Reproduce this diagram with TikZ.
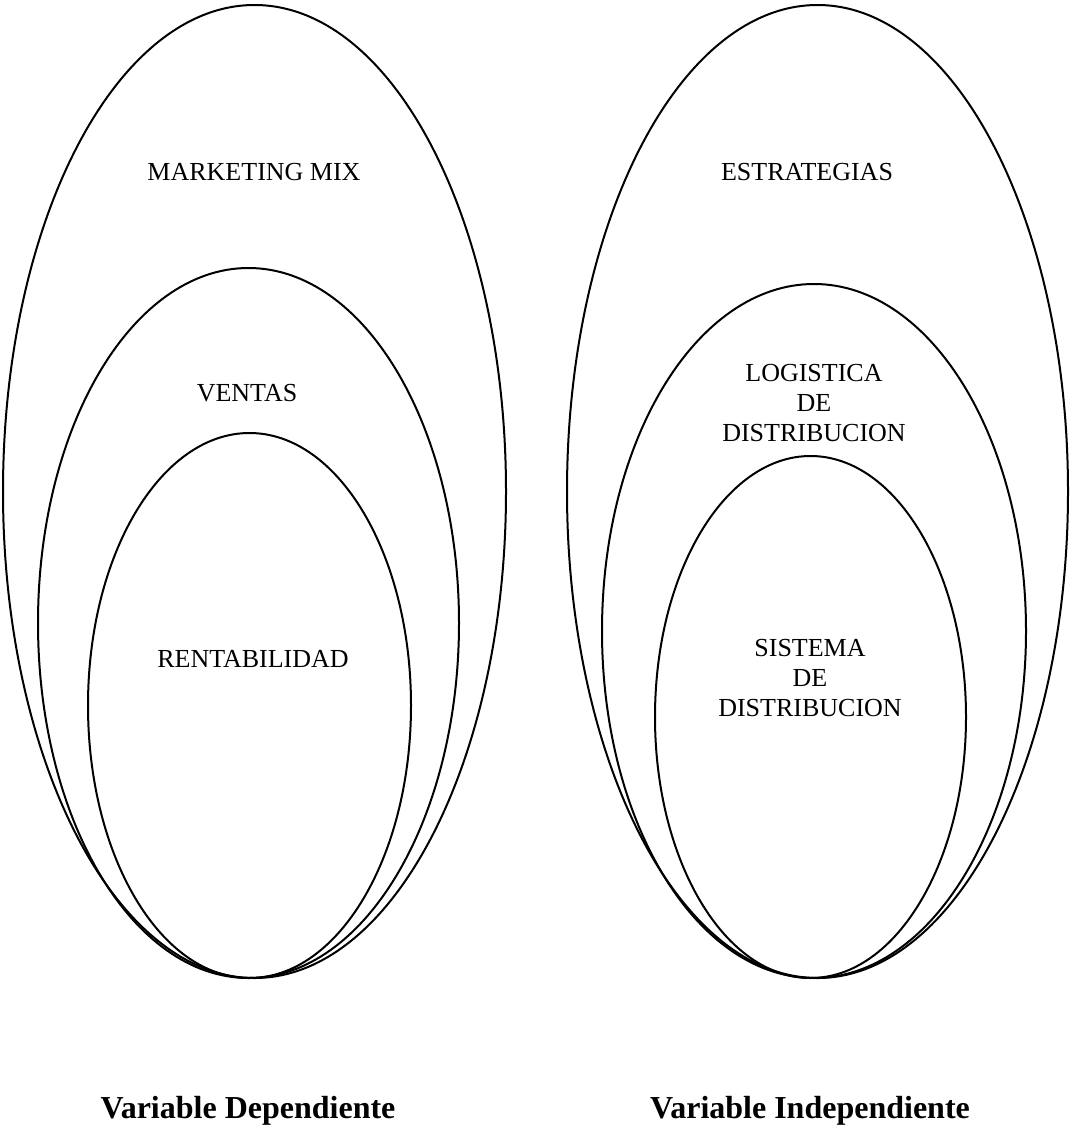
\documentclass[tikz,border=0pt]{standalone}
\usepackage{fontspec}
\setmainfont{Liberation Serif}
\begin{document}
\begin{tikzpicture}[x=1pt,y=-1pt,
  ring/.style={draw=black,line width=2pt},
  lab/.style={align=center,font=\fontsize{26}{30}\selectfont,inner sep=0pt},
  varlab/.style={font=\fontsize{32}{38}\selectfont\bfseries,inner sep=0pt,anchor=base}]
\useasboundingbox (0,0) rectangle (1072,1127);
% left group
\draw[ring] (254.5,491.5) ellipse [x radius=251.5, y radius=486.5];
\draw[ring] (248.5,623) ellipse [x radius=210.5, y radius=355];
\draw[ring] (249.5,705.5) ellipse [x radius=161.5, y radius=272.5];
% right group
\draw[ring] (817.5,491.5) ellipse [x radius=250.5, y radius=486.5];
\draw[ring] (814,631) ellipse [x radius=212, y radius=347];
\draw[ring] (810.5,717) ellipse [x radius=155.5, y radius=261];
% labels
\node[lab] (mm) at (254,172) {MARKETING MIX};
\node[lab] (ve) at (247,393) {VENTAS};
\node[lab] (re) at (253,659) {RENTABILIDAD};
\node[lab] (es) at (807,172) {ESTRATEGIAS};
\node[lab] (lo) at (814,403) {LOGISTICA\\DE\\DISTRIBUCION};
\node[lab] (si) at (810,678) {SISTEMA\\DE\\DISTRIBUCION};
\node[varlab] (vd) at (248,1118) {Variable Dependiente};
\node[varlab] (vi) at (810,1118) {Variable Independiente};
\end{tikzpicture}
\end{document}
